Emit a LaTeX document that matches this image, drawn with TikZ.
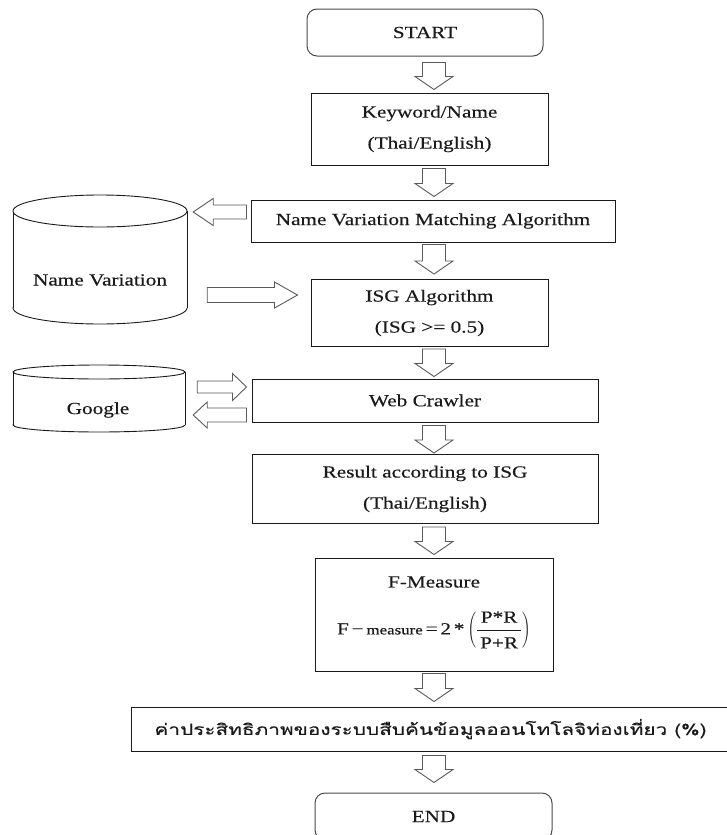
\documentclass[tikz,border=0pt]{standalone}
\usepackage{fontspec}
\usepackage{graphicx}
\setmainfont{Liberation Serif}[FakeStretch=1.25,FakeBold=0.3]
\newfontfamily\thaifont[Script=Thai,FakeBold=0.3]{Loma}
\usetikzlibrary{calc}
\definecolor{ink}{HTML}{1A1A1A}
\definecolor{arrowgray}{HTML}{5A5A5A}
\definecolor{roundgray}{HTML}{4A4A4A}
\tikzset{
 box/.style={draw=ink, line width=1pt, inner sep=0pt, align=center, font=\fontsize{17}{31}\selectfont, text=ink},
 rbox/.style={box, draw=roundgray, rounded corners=10pt},
 blk/.style={draw=arrowgray, fill=white, line width=0.9pt, line join=miter},
 cyl/.style={draw=ink, line width=0.9pt},
 lbl/.style={font=\fontsize{17}{31}\selectfont, text=ink, inner sep=0pt},
 hidden/.style={draw=none, inner sep=0pt}
}
\def\arrx{434pt}
\newcommand\varrow[4]{%
 \draw[blk] let \p1=(#1.south), \p2=(#2.north) in
 (\arrx-11.5pt,\y1-#3pt) -- (\arrx+11.5pt,\y1-#3pt) -- (\arrx+11.5pt,\y2+#4pt+13pt) --
 (\arrx+19pt,\y2+#4pt+13pt) -- (\arrx,\y2+#4pt) -- (\arrx-19pt,\y2+#4pt+13pt) --
 (\arrx-11.5pt,\y2+#4pt+13pt) -- cycle;}
\newcommand\hblk[6]{%
 \draw[blk] let \p1=#1, \p2=#2, \n1={ifthenelse(\x2>\x1,1,-1)} in
 (\x1,-#3pt+#4pt) -- ({\x2-(\n1)*#6pt},-#3pt+#4pt) -- ({\x2-(\n1)*#6pt},-#3pt+#5pt) --
 (\x2,-#3pt) -- ({\x2-(\n1)*#6pt},-#3pt-#5pt) -- ({\x2-(\n1)*#6pt},-#3pt-#4pt) --
 (\x1,-#3pt-#4pt) -- cycle;}
\begin{document}
\begin{tikzpicture}[x=1pt,y=-1pt]
\useasboundingbox (0,0) rectangle (727,835);
\clip (0,0) rectangle (727,835);
\fill[white] (0,0) rectangle (727,835);

% flow boxes
\node[rbox, minimum width=236pt, minimum height=47pt] (start) at (425,32.5) {START};
\node[box, minimum width=237pt, minimum height=72pt] (kw) at (429.5,129) {Keyword/Name\\(Thai/English)};
\node[box, minimum width=364pt, minimum height=42pt] (nvma) at (433,221) {Name Variation Matching Algorithm};
\node[box, minimum width=237pt, minimum height=67pt] (isg) at (429.5,313) {ISG Algorithm\\(ISG >= 0.5)};
\node[box, minimum width=346pt, minimum height=43pt] (wc) at (425,400.5) {Web Crawler};
\node[box, minimum width=346pt, minimum height=69pt] (res) at (425,489) {Result according to ISG\\(Thai/English)};
\node[box, minimum width=238pt, minimum height=113pt] (fm) at (434,614.5) {};
\node[lbl] (fmt) at (434,582) {F-Measure};
\node[lbl] (fmf) at (434,630) {F\,−\,{\fontsize{13.5}{14}\selectfont measure}\,=\,2\,*\,$\displaystyle\left(\frac{\rule[-6pt]{0pt}{0pt}\,\mbox{P*R}\,}{\rule{0pt}{17pt}\,\mbox{P+R}\,}\right)$};
\node[box, minimum width=599pt, minimum height=44pt] (thai) at (430.5,729) {\resizebox{552pt}{\height}{\thaifont\fontsize{15.5}{18}\selectfont ค่าประสิทธิภาพของระบบสืบค้นข้อมูลออนโทโลจิท่องเที่ยว (\%)}};
\node[rbox, minimum width=237pt, minimum height=47pt] (end) at (433.5,816.5) {END};

% Name Variation cylinder
\node[hidden, minimum width=174pt, minimum height=129pt] (nv) at (100,259.5) {};
\draw[cyl] (100,308) ellipse [x radius=87pt, y radius=16pt];
\fill[white] (13,211) rectangle (187,308);
\draw[cyl] (13,211) -- (13,308) (187,211) -- (187,308);
\draw[cyl, fill=white] (100,211) ellipse [x radius=87pt, y radius=16pt];
\node[lbl] (nvt) at (100,280) {Name Variation};

% Google cylinder
\node[hidden, minimum width=172pt, minimum height=67pt] (g) at (99,398.5) {};
\draw[cyl] (99,425) ellipse [x radius=86pt, y radius=7pt];
\fill[white] (13,372) rectangle (185,425);
\draw[cyl] (13,372) -- (13,425) (185,372) -- (185,425);
\draw[cyl, fill=white] (99,372) ellipse [x radius=86pt, y radius=7pt];
\node[lbl] (gt) at (98,410) {Google};

% vertical block arrows
\varrow{start}{kw}{6}{3}
\varrow{kw}{nvma}{3}{3}
\varrow{nvma}{isg}{2}{5}
\varrow{isg}{wc}{2}{2}
\varrow{wc}{res}{3}{1}
\varrow{res}{fm}{3}{3}
\varrow{fm}{thai}{2}{5}
\varrow{thai}{end}{4}{10}

% horizontal block arrows
\hblk{([xshift=-4pt]nvma.west)}{([xshift=6pt]nv.east)}{212}{7}{13.5}{20}
\hblk{([xshift=20pt]nv.east)}{([xshift=-13pt]isg.west)}{295}{7.5}{13}{23}
\hblk{([xshift=12pt]g.east)}{([xshift=-5pt]wc.west)}{387}{6}{13.5}{14}
\hblk{([xshift=-5pt]wc.west)}{([xshift=8pt]g.east)}{415}{7}{13}{14}
\end{tikzpicture}
\end{document}
